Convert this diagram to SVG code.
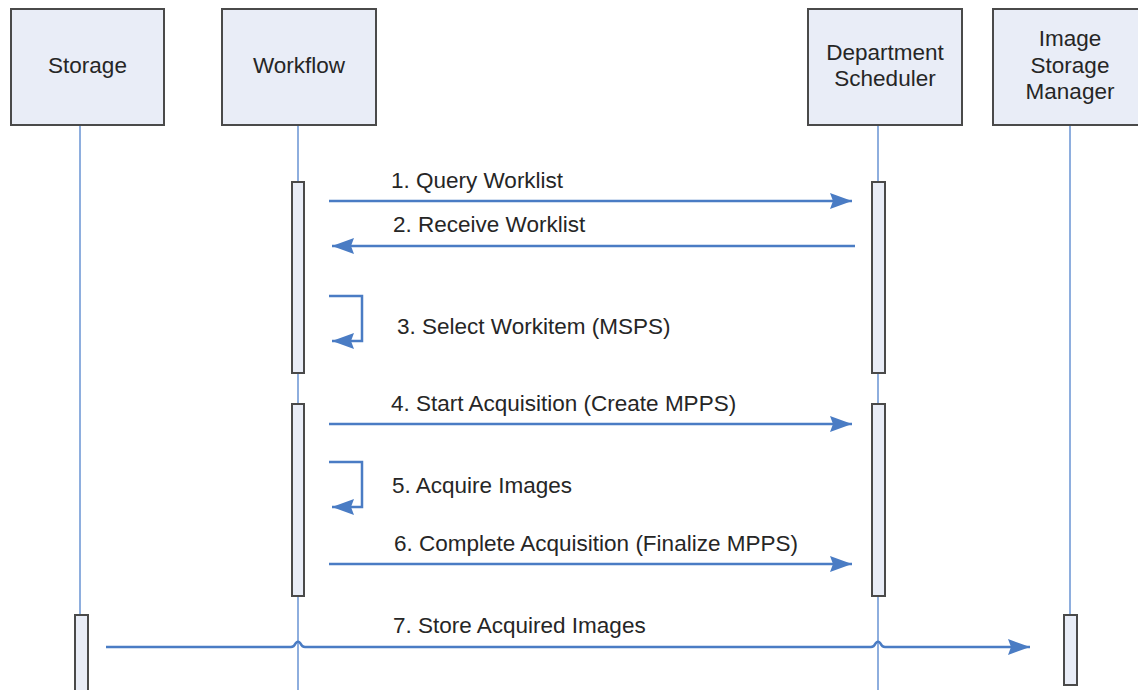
<svg xmlns="http://www.w3.org/2000/svg" width="1138" height="690" viewBox="0 0 1138 690">
<style>
.box{fill:#e9edf7;stroke:#4a4a4a;stroke-width:2}
.bar{fill:#e9edf7;stroke:#4a4a4a;stroke-width:2}
.life{stroke:#8eaede;stroke-width:2;fill:none}
.msg{stroke:#4a7cc4;stroke-width:2.5;fill:none}
.t{font-family:"Liberation Sans",Arial,sans-serif;font-size:22.5px;fill:#262626}
.c{text-anchor:middle}
</style>
<defs>
<marker id="ah" markerWidth="24" markerHeight="18" refX="22" refY="9" orient="auto" markerUnits="userSpaceOnUse">
<path d="M0,1 L22,9 L0,17 L3,9 Z" fill="#4a7cc4"/>
</marker>
</defs>
<g id="lifelines">
<path class="life" d="M80,125 V615"/>
<path class="life" d="M298,125 V182 M298,373 V404 M298,596 V690"/>
<path class="life" d="M878,125 V182 M878,373 V404 M878,596 V690"/>
<path class="life" d="M1070,125 V615"/>
</g>
<g id="storage"><rect class="box" x="11" y="9" width="153" height="116"/><text class="t c" x="87.5" y="73">Storage</text></g>
<g id="workflow"><rect class="box" x="222" y="9" width="154" height="116"/><text class="t c" x="299" y="73">Workflow</text></g>
<g id="scheduler"><rect class="box" x="808" y="9" width="154" height="116"/><text class="t c" x="885" y="60">Department</text><text class="t c" x="885" y="86">Scheduler</text></g>
<g id="ism"><rect class="box" x="993" y="9" width="154" height="116"/><text class="t c" x="1070" y="46">Image</text><text class="t c" x="1070" y="73">Storage</text><text class="t c" x="1070" y="99">Manager</text></g>
<g id="activations">
<rect class="bar" x="292" y="182" width="12" height="191"/>
<rect class="bar" x="292" y="404" width="12" height="192"/>
<rect class="bar" x="872" y="182" width="13" height="191"/>
<rect class="bar" x="872" y="404" width="13" height="192"/>
<rect class="bar" x="75" y="615" width="13" height="80"/>
<rect class="bar" x="1064" y="615" width="13" height="70"/>
</g>
<g id="connectors">
<path class="msg" d="M329,201 H852" marker-end="url(#ah)"/>
<path class="msg" d="M855,246 H332" marker-end="url(#ah)"/>
<path class="msg" d="M329,296 H362 V341 H332" marker-end="url(#ah)"/>
<path class="msg" d="M329,424 H852" marker-end="url(#ah)"/>
<path class="msg" d="M329,462 H362 V507 H332" marker-end="url(#ah)"/>
<path class="msg" d="M329,564 H852" marker-end="url(#ah)"/>
<path class="msg" d="M106,647 H291 Q294,647 295.5,643.5 Q298,640 300.5,643.5 Q302,647 305,647 H871 Q874,647 875.5,643.5 Q878,640 880.5,643.5 Q882,647 885,647 H1030" marker-end="url(#ah)"/>
</g>
<g id="labels">
<text class="t" x="391" y="188">1. Query Worklist</text>
<text class="t" x="393" y="232">2. Receive Worklist</text>
<text class="t" x="397" y="334">3. Select Workitem (MSPS)</text>
<text class="t" x="391" y="411">4. Start Acquisition (Create MPPS)</text>
<text class="t" x="392" y="493">5. Acquire Images</text>
<text class="t" x="394" y="551">6. Complete Acquisition (Finalize MPPS)</text>
<text class="t" x="393" y="633">7. Store Acquired Images</text>
</g>
</svg>
